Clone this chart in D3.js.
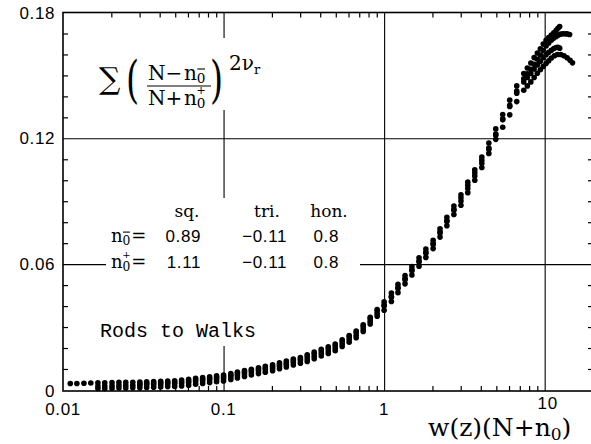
<!DOCTYPE html>
<html>
<head>
<meta charset="utf-8">
<script src="https://cdn.jsdelivr.net/npm/d3@7"></script>
<style>
  body { margin: 0; background: #fff; }
  svg { display: block; }
</style>
</head>
<body>
<div id="chart"></div>
<script>
// shared x positions of the points, w(z)(N+n0)
const xGrid = [
  0.0111, 0.0122, 0.0135, 0.0149, 0.0165, 0.0182, 0.0202, 0.0223, 0.0246, 0.0272,
  0.0301, 0.0332, 0.0367, 0.0406, 0.0449, 0.0496, 0.0548, 0.0606, 0.0670, 0.0741,
  0.0819, 0.0905, 0.100, 0.111, 0.122, 0.135, 0.149, 0.165, 0.182, 0.202,
  0.223, 0.246, 0.272, 0.301, 0.332, 0.367, 0.406, 0.449, 0.496, 0.548,
  0.606, 0.670, 0.741, 0.819, 0.905, 1.00, 1.11, 1.22, 1.35, 1.49,
  1.65, 1.82, 2.02, 2.23, 2.46, 2.72, 3.01, 3.32, 3.67, 4.06,
  4.49, 4.96, 5.48, 6.06, 6.70, 7.41
];

// y values per series on xGrid (null = no point)
const seriesA = [
  0.0031, 0.0031, 0.0032, 0.0033, 0.0034, 0.0034, 0.0035, 0.0036, 0.0036, 0.0037,
  0.0038, 0.0039, 0.0040, 0.0041, 0.0043, 0.0044, 0.0047, 0.0051, 0.0055, 0.0059,
  0.0063, 0.0067, 0.0071, 0.0078, 0.0085, 0.0092, 0.0099, 0.0106, 0.0113, 0.0120,
  0.0129, 0.0138, 0.0147, 0.0155, 0.0168, 0.0181, 0.0194, 0.0206, 0.0219, 0.0239,
  0.0260, 0.0281, 0.0311, 0.0347, 0.0384, 0.0420, 0.0462, 0.0504, 0.0546, 0.0588,
  0.0630, 0.0672, 0.0714, 0.0769, 0.0823, 0.0877, 0.0931, 0.0991, 0.1050, 0.1111,
  0.1178, 0.1245, 0.1313, 0.1382, 0.1450, 0.1509
];
const seriesB = [
  null, null, null, null, null, null, null, null, null, null,
  0.0030, 0.0031, 0.0032, 0.0033, 0.0035, 0.0036, 0.0039, 0.0043, 0.0047, 0.0051,
  0.0055, 0.0059, 0.0063, 0.0070, 0.0077, 0.0084, 0.0091, 0.0098, 0.0105, 0.0112,
  0.0121, 0.0130, 0.0139, 0.0147, 0.0160, 0.0173, 0.0186, 0.0198, 0.0211, 0.0231,
  0.0252, 0.0273, 0.0303, 0.0339, 0.0376, 0.0405, 0.0447, 0.0489, 0.0531, 0.0573,
  0.0615, 0.0657, 0.0699, 0.0754, 0.0808, 0.0862, 0.0916, 0.0976, 0.1035, 0.1096,
  0.1153, 0.1220, 0.1288, 0.1357, 0.1425, 0.1484
];
const seriesC = [
  null, null, null, null, 0.0019, 0.0019, 0.0020, 0.0021, 0.0021, 0.0022,
  0.0023, 0.0024, 0.0025, 0.0026, 0.0028, 0.0029, 0.0031, 0.0035, 0.0039, 0.0043,
  0.0047, 0.0051, 0.0055, 0.0062, 0.0069, 0.0076, 0.0083, 0.0090, 0.0097, 0.0104,
  0.0113, 0.0122, 0.0131, 0.0139, 0.0148, 0.0161, 0.0174, 0.0186, 0.0199, 0.0219,
  0.0240, 0.0261, 0.0291, 0.0327, 0.0364, 0.0400, 0.0442, 0.0484, 0.0526, 0.0568,
  0.0610, 0.0652, 0.0694, 0.0749, 0.0803, 0.0857, 0.0901, 0.0961, 0.1020, 0.1081,
  0.1148, 0.1215, 0.1293, 0.1352, 0.1415, 0.1469
];
const seriesD = [
  null, null, null, null, 0.0007, 0.0007, 0.0008, 0.0009, 0.0009, 0.0010,
  0.0011, 0.0012, 0.0013, 0.0014, 0.0016, 0.0017, 0.0019, 0.0023, 0.0027, 0.0031,
  0.0035, 0.0039, 0.0043, 0.0050, 0.0057, 0.0064, 0.0071, 0.0078, 0.0085, 0.0092,
  0.0101, 0.0110, 0.0119, 0.0127, 0.0136, 0.0149, 0.0162, 0.0174, 0.0187, 0.0207,
  0.0228, 0.0249, 0.0279, 0.0315, 0.0352, 0.0380, 0.0422, 0.0464, 0.0506, 0.0548,
  0.0590, 0.0632, 0.0674, 0.0729, 0.0783, 0.0837, 0.0881, 0.0941, 0.1000, 0.1061,
  0.1128, 0.1195, 0.1253, 0.1312, 0.1375, 0.1429
];

// dense ends of the curves past x = 7.4
const tailXA = [7.8, 8.2, 8.6, 9.0, 9.4, 9.8, 10.2, 10.6, 11.0, 11.4, 11.8, 12.1, 12.4];
const tailYA = [0.1535, 0.1559, 0.1585, 0.1607, 0.1627, 0.1650, 0.1667, 0.1680, 0.1692, 0.1703, 0.1715, 0.1725, 0.1733];
const tailXB = [7.8, 8.2, 8.6, 9.0, 9.4, 9.8, 10.2, 10.6, 11.0, 11.4, 11.8, 12.2, 12.6, 13.0, 13.4, 13.8, 14.3];
const tailYB = [0.1508, 0.1529, 0.1553, 0.1577, 0.1597, 0.1619, 0.1640, 0.1655, 0.1668, 0.1678, 0.1686, 0.1693, 0.1697, 0.1699, 0.1699, 0.1698, 0.1695];
const tailXC = [7.8, 8.2, 8.6, 9.0, 9.4, 9.8, 10.2, 10.6, 11.0, 11.4, 11.8, 12.1, 12.4];
const tailYC = [0.1490, 0.1509, 0.1530, 0.1550, 0.1567, 0.1584, 0.1598, 0.1610, 0.1620, 0.1628, 0.1633, 0.1634, 0.1630];
const tailXD = [7.8, 8.2, 8.6, 9.0, 9.4, 9.8, 10.2, 10.6, 11.0, 11.5, 12.0, 12.6, 13.2, 13.8, 14.4, 14.9];
const tailYD = [0.1450, 0.1469, 0.1490, 0.1510, 0.1527, 0.1543, 0.1557, 0.1570, 0.1583, 0.1594, 0.1600, 0.1600, 0.1594, 0.1584, 0.1572, 0.1560];

const xTicks = [0.01, 0.1, 1, 10];
const xTickLabels = ["0.01", "0.1", "1", "10"];
const yTicks = [0, 0.06, 0.12, 0.18];
const yTickLabels = ["0", "0.06", "0.12", "0.18"];

const legendHeads = ["sq.", "tri.", "hon."];
const nMinusValues = ["0.89", "\u22120.11", "0.8"];
const nPlusValues = ["1.11", "\u22120.11", "0.8"];

const W = 591, H = 444;
const plotLeft = 63, plotRight = 593, plotTop = 12.5, plotBottom = 391;

const svg = d3.select("#chart").append("svg")
    .attr("width", W)
    .attr("height", H);

const x = d3.scaleLog().domain([0.01, 20]).range([plotLeft, plotRight]);
const y = d3.scaleLinear().domain([-0.0005, 0.18]).range([plotBottom, plotTop]);

const serif = "'DejaVu Serif', serif";
const sans = "'Liberation Sans', Arial, sans-serif";

// minor ticks
const xMinor = [];
[0.01, 0.1, 1, 10].forEach(d => d3.range(2, 10).forEach(m => { if (d * m < 20) xMinor.push(d * m); }));
const yMinor = d3.range(1, 18).map(i => i / 100).filter(v => Math.round(v * 100) % 6 !== 0);

svg.append("g")
    .attr("transform", `translate(0,${plotBottom})`)
    .call(d3.axisBottom(x).tickValues(xMinor).tickSize(-5).tickFormat(""))
    .call(g => g.select(".domain").remove());
svg.append("g")
    .attr("transform", `translate(0,${plotTop})`)
    .call(d3.axisTop(x).tickValues(xMinor).tickSize(-5).tickFormat(""))
    .call(g => g.select(".domain").remove());
svg.append("g")
    .attr("transform", `translate(${plotLeft},0)`)
    .call(d3.axisLeft(y).tickValues(yMinor).tickSize(-5).tickFormat(""))
    .call(g => g.select(".domain").remove());
svg.append("g")
    .attr("transform", `translate(${plotRight},0)`)
    .call(d3.axisRight(y).tickValues(yMinor).tickSize(-5).tickFormat(""))
    .call(g => g.select(".domain").remove());
svg.selectAll(".tick line").attr("stroke", "#000").attr("stroke-width", 1.2);

// grid lines at the major ticks
svg.append("g")
    .attr("transform", `translate(0,${plotBottom})`)
    .call(d3.axisBottom(x).tickValues(xTicks.slice(1)).tickSize(-(plotBottom - plotTop)).tickFormat(""))
    .call(g => g.select(".domain").remove())
    .call(g => g.selectAll("line").attr("stroke", "#000").attr("stroke-width", 1.1));
svg.append("g")
    .attr("transform", `translate(${plotLeft},0)`)
    .call(d3.axisLeft(y).tickValues(yTicks.slice(1, 3)).tickSize(-(plotRight - plotLeft)).tickFormat(""))
    .call(g => g.select(".domain").remove())
    .call(g => g.selectAll("line").attr("stroke", "#000").attr("stroke-width", 1.1));

// white boxes behind the annotations
const boxes = [[92, 38, 172, 72], [106, 198, 254, 78], [92, 276, 172, 70]];
svg.append("g").selectAll("rect").data(boxes).join("rect")
    .attr("x", d => d[0]).attr("y", d => d[1])
    .attr("width", d => d[2]).attr("height", d => d[3])
    .attr("fill", "#fff");

// frame
svg.append("rect")
    .attr("x", plotLeft).attr("y", plotTop)
    .attr("width", plotRight - plotLeft).attr("height", plotBottom - plotTop)
    .attr("fill", "none").attr("stroke", "#000").attr("stroke-width", 1.6);

// tick labels
svg.append("g").selectAll("text").data(yTicks).join("text")
    .attr("x", plotLeft - 8)
    .attr("y", (d, i) => i === 0 ? y(d) + 7 : y(d) + 6)
    .attr("text-anchor", "end")
    .attr("font-family", sans).attr("font-size", 17).attr("letter-spacing", 0.6)
    .text((d, i) => yTickLabels[i]);
svg.append("g").selectAll("text").data(xTicks).join("text")
    .attr("x", (d, i) => x(d) + (i === 3 ? 3 : 0))
    .attr("y", (d, i) => i === 3 ? 409 : 415)
    .attr("text-anchor", "middle")
    .attr("font-family", sans).attr("font-size", 17).attr("letter-spacing", 0.6)
    .text((d, i) => xTickLabels[i]);

// axis title
const xt = svg.append("text")
    .attr("x", 428).attr("y", 436)
    .attr("font-family", serif).attr("font-size", 25);
xt.append("tspan").text("w(z)(N+n");
xt.append("tspan").attr("font-size", 17).attr("dy", 4).text("0");
xt.append("tspan").attr("dy", -4).text(")");

// n with subscript 0, bar or plus above the 0
function nZero(g, x0, y0, size, mark) {
  const t = g.append("text").attr("x", x0).attr("y", y0)
      .attr("font-family", serif).attr("font-size", size);
  t.append("tspan").text("n");
  const nw = size * 0.64;
  const zs = size * 0.68;
  g.append("text").attr("x", x0 + nw).attr("y", y0 + size * 0.15)
      .attr("font-family", serif).attr("font-size", zs).text("0");
  if (mark === "bar") {
    g.append("line")
        .attr("x1", x0 + nw + 0.5).attr("x2", x0 + nw + zs * 0.6)
        .attr("y1", y0 - size * 0.55).attr("y2", y0 - size * 0.55)
        .attr("stroke", "#000").attr("stroke-width", 1.1);
  } else {
    g.append("text").attr("x", x0 + nw + zs * 0.32).attr("y", y0 - size * 0.56)
        .attr("text-anchor", "middle")
        .attr("font-family", serif).attr("font-size", size * 0.55).text("+");
  }
  return x0 + nw + zs * 0.64;
}

// formula
const fm = svg.append("g").attr("font-family", serif);
fm.append("text").attr("x", 99).attr("y", 89).attr("font-size", 30).text("\u2211");
fm.append("text").attr("transform", "translate(126,97) scale(0.7,1.05)").attr("font-size", 48).text("(");
fm.append("text").attr("transform", "translate(210,97) scale(0.7,1.05)").attr("font-size", 48).text(")");
fm.append("text").attr("x", 148).attr("y", 80).attr("font-size", 20).text("N\u2212");
nZero(fm, 184, 80, 20, "bar");
fm.append("line").attr("x1", 147).attr("x2", 211).attr("y1", 86).attr("y2", 86)
    .attr("stroke", "#000").attr("stroke-width", 1.1);
fm.append("text").attr("x", 148).attr("y", 105).attr("font-size", 20).text("N+");
nZero(fm, 184, 105, 20, "plus");
const ex = fm.append("text").attr("x", 229).attr("y", 70).attr("font-size", 20);
ex.append("tspan").text("2\u03bd");
ex.append("tspan").attr("font-size", 13).attr("dy", 4).text("r");

// legend table
const colX = [201, 287, 339];
const headX = [187, 267, 329];
svg.append("g").selectAll("text").data(legendHeads).join("text")
    .attr("x", (d, i) => headX[i]).attr("y", 217)
    .attr("text-anchor", "middle")
    .attr("font-family", serif).attr("font-size", 17)
    .text(d => d);
[[nMinusValues, 242, "bar"], [nPlusValues, 268, "plus"]].forEach(([vals, yy, mark]) => {
  const lg = svg.append("g");
  const ex2 = nZero(lg, 111, yy, 18, mark);
  lg.append("text").attr("x", ex2 + 1).attr("y", yy)
      .attr("font-family", serif).attr("font-size", 18).text("=");
  lg.selectAll("text.v").data(vals).join("text")
      .attr("class", "v")
      .attr("x", (d, i) => colX[i]).attr("y", yy)
      .attr("text-anchor", "end")
      .attr("font-family", sans).attr("font-size", 17).attr("letter-spacing", 0.6)
      .text(d => d);
});

svg.append("text")
    .attr("x", 100).attr("y", 337)
    .attr("font-family", "'Liberation Mono', monospace").attr("font-size", 20)
    .text("Rods to Walks");

// points
const allSeries = [
  [xGrid, seriesA, tailXA, tailYA],
  [xGrid, seriesB, tailXB, tailYB],
  [xGrid, seriesC, tailXC, tailYC],
  [xGrid, seriesD, tailXD, tailYD]
];
const points = [];
allSeries.forEach(([xs, ys, tx, ty]) => {
  xs.forEach((v, i) => { if (ys[i] !== null) points.push([v, ys[i]]); });
  tx.forEach((v, i) => points.push([v, ty[i]]));
});
svg.append("g").selectAll("circle").data(points).join("circle")
    .attr("cx", d => x(d[0]))
    .attr("cy", d => y(d[1]))
    .attr("r", 2.8)
    .attr("fill", "#000");
</script>
</body>
</html>
